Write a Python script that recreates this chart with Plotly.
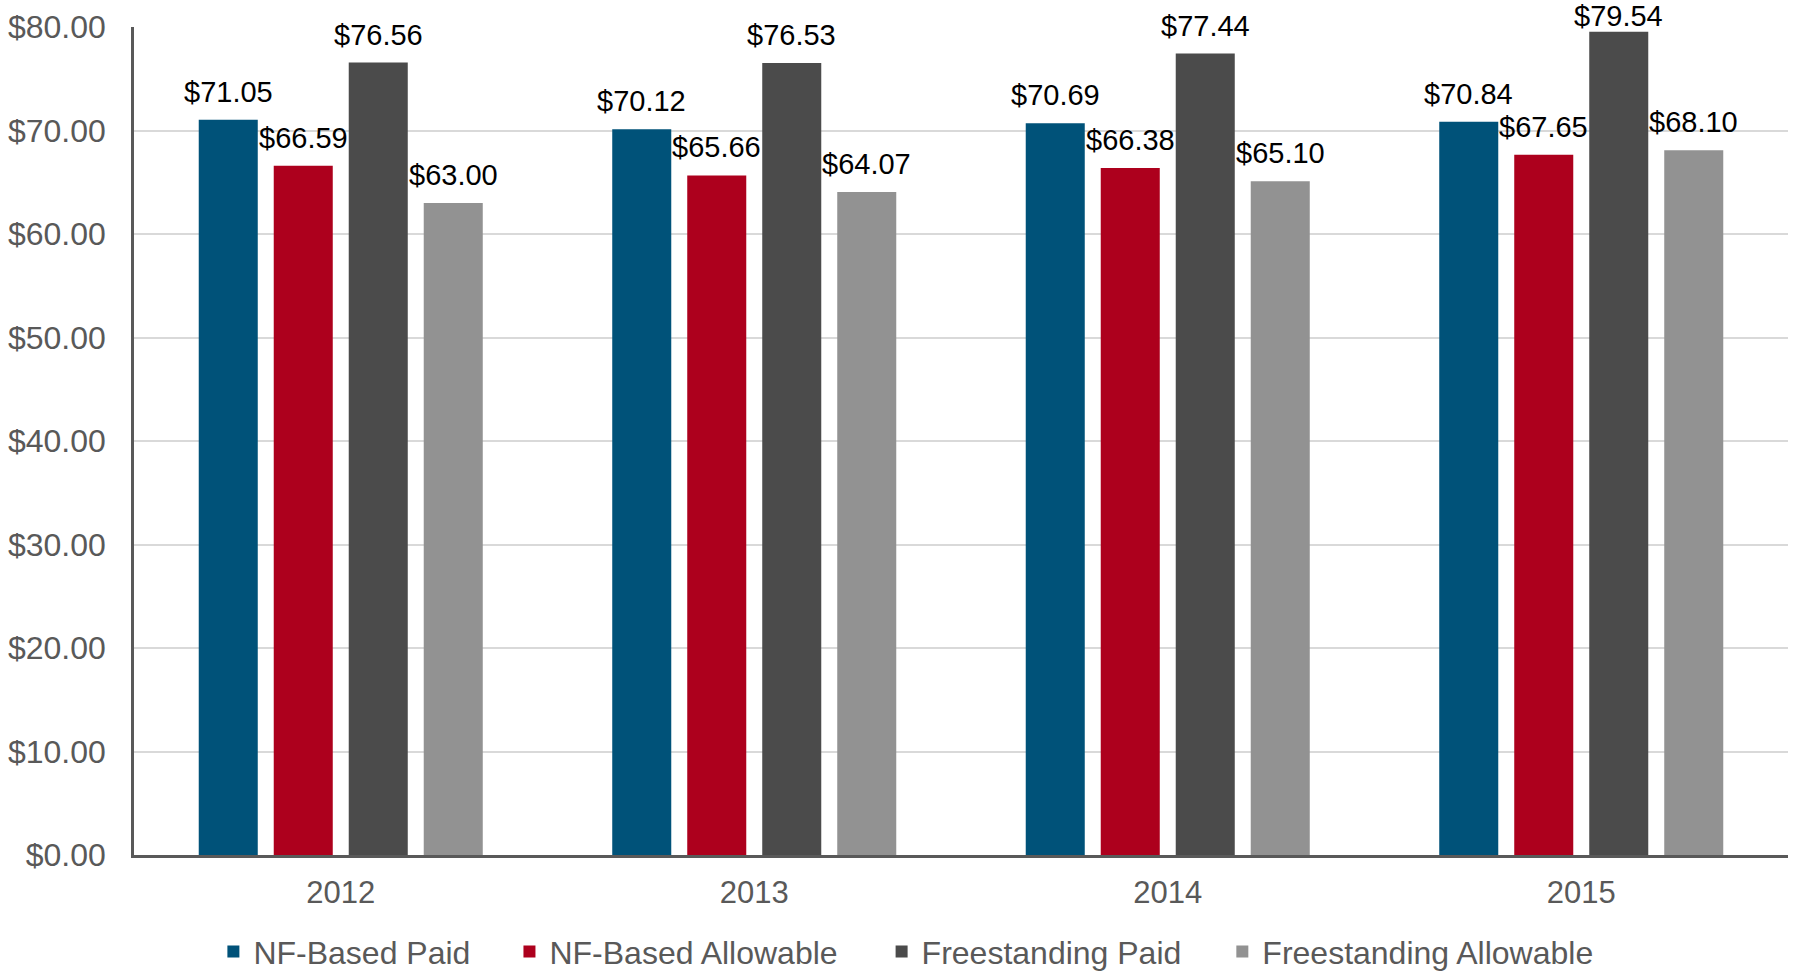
import plotly.graph_objects as go

years = ["2012", "2013", "2014", "2015"]
series_names = ["NF-Based Paid", "NF-Based Allowable", "Freestanding Paid", "Freestanding Allowable"]
nf_paid = [71.05, 70.12, 70.69, 70.84]
nf_allow = [66.59, 65.66, 66.38, 67.65]
fs_paid = [76.56, 76.53, 77.44, 79.54]
fs_allow = [63.00, 64.07, 65.10, 68.10]
colors = ["#005279", "#AD001D", "#4B4B4B", "#929292"]
y_ticks = [0, 10, 20, 30, 40, 50, 60, 70, 80]

FONT = "Liberation Sans, Arial, sans-serif"
W, H = 1794, 972
ML, MR, MT, MB = 134, 6, 27, 117
BARGAP, GROUPGAP = 0.2745, 0.213
Y_MAX = 80
legend_ids = ["legend", "legend2", "legend3", "legend4"]
legend_x = [0.048, 0.227, 0.452, 0.658]

fig = go.Figure()
all_series = [nf_paid, nf_allow, fs_paid, fs_allow]
for name, vals, col, lid in zip(series_names, all_series, colors, legend_ids):
    fig.add_trace(go.Bar(
        name=name, x=years, y=vals, legend=lid,
        marker=dict(color=col, line=dict(width=0)),
    ))

# value labels above the bars (offset within each group from the bar layout)
plot_w = W - ML - MR
plot_h = H - MT - MB
slot = plot_w / len(years) * (1 - BARGAP) / len(all_series)
n = len(all_series)
for i, vals in enumerate(all_series):
    for j, v in enumerate(vals):
        top_px = (Y_MAX - v) / Y_MAX * plot_h + MT
        ys = min(10, top_px - 34)
        fig.add_annotation(
            x=j, y=v, xref="x", yref="y", text=f"${v:.2f}", showarrow=False,
            xanchor="center", yanchor="bottom", xshift=(i - (n - 1) / 2) * slot, yshift=ys,
            font=dict(family=FONT, size=29, color="#000000"),
        )

legend_style = dict(orientation="h", xanchor="left", y=-0.1168, yanchor="middle",
                    font=dict(family=FONT, size=32, color="#595959"), itemwidth=30,
                    bgcolor="rgba(0,0,0,0)")
legends = {lid: dict(legend_style, x=lx) for lid, lx in zip(legend_ids, legend_x)}

fig.update_layout(
    width=W, height=H,
    paper_bgcolor="white", plot_bgcolor="white",
    margin=dict(l=ML, r=MR, t=MT, b=MB, autoexpand=False),
    barmode="group", bargap=BARGAP, bargroupgap=GROUPGAP,
    font=dict(family=FONT, color="#595959"),
    showlegend=True,
    xaxis=dict(type="category", showline=True, linecolor="#595959", linewidth=2.5, ticks="",
               tickfont=dict(family=FONT, size=31, color="#595959"),
               ticklabelstandoff=8, automargin=False),
    yaxis=dict(range=[0, Y_MAX], tickvals=y_ticks, tickformat="$.2f",
               showline=True, linecolor="#595959", linewidth=2.5, ticks="",
               showgrid=True, gridcolor="#D9D9D9", gridwidth=1.5,
               zeroline=False, automargin=False,
               tickfont=dict(family=FONT, size=32, color="#595959"),
               ticklabelstandoff=19),
    **legends,
)

fig.write_html("out.html", config={"displayModeBar": False},
               post_script="document.body.style.margin='0';document.body.style.overflow='hidden';")
